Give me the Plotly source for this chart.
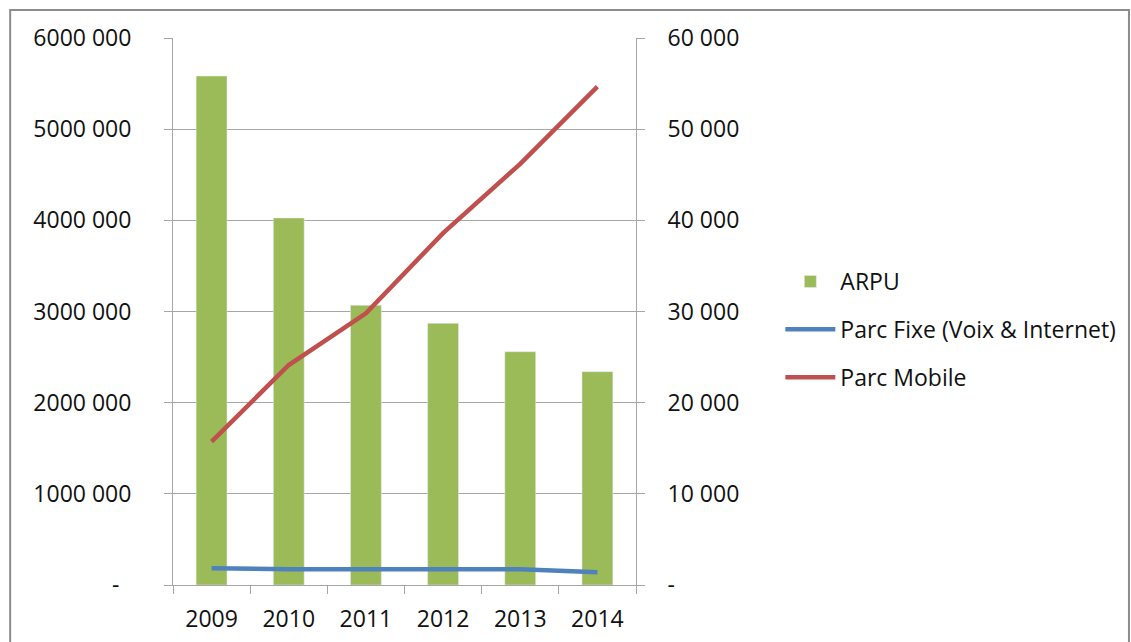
import plotly.graph_objects as go

years = ["2009", "2010", "2011", "2012", "2013", "2014"]
arpu = [55830, 40260, 30680, 28700, 25590, 23400]
parc_fixe = [185000, 172000, 172000, 173000, 173000, 140000]
parc_mobile = [1572000, 2413000, 2980000, 3860000, 4620000, 5466000]

left_vals = [0, 1000000, 2000000, 3000000, 4000000, 5000000, 6000000]
left_text = ["-\u00a0\u00a0", "1000 000", "2000 000", "3000 000", "4000 000", "5000 000", "6000 000"]
right_vals = [0, 10000, 20000, 30000, 40000, 50000, 60000]
right_text = ["-", "10 000", "20 000", "30 000", "40 000", "50 000", "60 000"]

FONT = "Open Sans"
GRID = "#A6A6A6"
TXT = "#111111"
FS = 23

fig = go.Figure()
fig.add_trace(go.Bar(x=years, y=arpu, name="ARPU", marker=dict(color="#9BBB59"),
                     yaxis="y", legendgroup="a"))
fig.add_trace(go.Scatter(x=years, y=parc_fixe, name="Parc Fixe (Voix & Internet)", mode="lines",
                         line=dict(color="#4F81BD", width=4.5), yaxis="y2", legendgroup="b"))
fig.add_trace(go.Scatter(x=years, y=parc_mobile, name="Parc Mobile", mode="lines",
                         line=dict(color="#C0504D", width=4.5), yaxis="y2", legendgroup="c"))

L, T = 173, 38
W, H = 463.5, 547
def px(x):
    return (x - L) / W
def py(y):
    return (T + H - y) / H

fig.update_layout(
    width=1131, height=642,
    margin=dict(l=173, r=1131 - 173 - 463.5, t=38, b=642 - 38 - 547, autoexpand=False),
    paper_bgcolor="white", plot_bgcolor="white",
    font=dict(family=FONT, size=FS, color=TXT),
    bargap=0.6,
    showlegend=True,
    legend=dict(x=px(781), y=py(260), xanchor="left", yanchor="top",
                tracegroupgap=15, itemwidth=50, font=dict(size=FS, color=TXT),
                bgcolor="rgba(0,0,0,0)", traceorder="grouped"),
    xaxis=dict(type="category", range=[-0.5, 5.5], showline=True, linecolor=GRID, linewidth=1,
               ticks="outside", tickson="boundaries", ticklen=8, tickcolor=GRID,
               showgrid=False, tickfont=dict(size=FS, color=TXT), ticklabelstandoff=13),
    yaxis=dict(side="right", range=[0, 60000], tickvals=right_vals, ticktext=right_text,
               showline=True, linecolor=GRID, linewidth=1, ticks="outside", ticklen=8,
               tickcolor=GRID, showgrid=True, gridcolor=GRID, gridwidth=1,
               zeroline=False, tickfont=dict(size=FS, color=TXT), ticklabelstandoff=18),
    yaxis2=dict(side="left", overlaying="y", range=[0, 6000000], tickvals=left_vals,
                ticktext=left_text, showline=True, linecolor=GRID, linewidth=1,
                ticks="outside", ticklen=8, tickcolor=GRID, showgrid=False, zeroline=False,
                tickfont=dict(size=FS, color=TXT), ticklabelstandoff=28),
    shapes=[dict(type="rect", xref="paper", yref="paper", x0=px(10), x1=px(1130),
                 y0=py(660), y1=py(10), line=dict(color="#8C8C8C", width=2),
                 fillcolor="rgba(0,0,0,0)", layer="below")],
)

fig.write_html("out.html")
